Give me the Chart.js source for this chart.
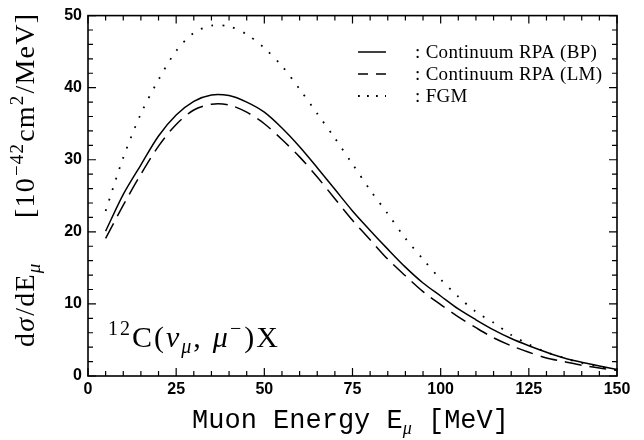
<!DOCTYPE html>
<html>
<head>
<meta charset="utf-8">
<script src="https://cdn.jsdelivr.net/npm/chart.js@4.4.1/dist/chart.umd.min.js"></script>
<style>
  html, body { margin: 0; padding: 0; background: #fff; }
  #wrap { width: 644px; height: 440px; }
</style>
</head>
<body>
<div id="wrap"><canvas id="c" width="644" height="440"></canvas></div>
<script>
// ---- data ----
const energies = [5,10,15,20,25,30,35,40,45,50,55,60,65,70,75,80,85,90,95,100,105,110,115,120,125,130,135,140,145,150];
const rpaBP = [20.1,25.2,29.3,33.3,36.2,38.1,39.0,38.9,38.0,36.6,34.4,31.8,28.9,25.9,22.9,20.2,17.6,15.1,12.9,11.1,9.3,7.8,6.4,5.2,4.2,3.3,2.5,1.9,1.4,0.9];
const rpaLM = [19.1,23.7,28.0,31.9,34.9,36.9,37.7,37.6,36.6,35.0,32.8,30.4,27.6,24.6,21.6,18.9,16.2,13.9,11.7,9.9,8.2,6.7,5.3,4.2,3.3,2.5,2.0,1.5,1.1,0.8];
const fgm   = [22.9,30.3,36.4,41.1,45.1,47.6,48.6,48.5,47.4,45.5,43.0,39.8,36.4,33.0,29.4,25.8,22.5,19.1,16.2,13.4,11.0,8.9,7.4,5.7,4.4,3.3,2.5,1.8,1.3,0.8];
const seriesLabels = [': Continuum RPA (BP)', ': Continuum RPA (LM)', ': FGM'];
const xTickStep = 25, xMinorStep = 5;
const yTickStep = 10, yMinorStep = 2;

const toXY = arr => energies.map((e, i) => ({x: e, y: arr[i]}));

const SERIF = "'Liberation Serif', 'DejaVu Serif', serif";
const MONO = "'Liberation Mono', 'DejaVu Sans Mono', monospace";
const SANS = "'Liberation Sans', Arial, sans-serif";

function drawRun(ctx, x, y, parts) {
  let cx = x;
  for (const p of parts) {
    ctx.font = p.font;
    cx += (p.pre || 0);
    if (p.t) ctx.fillText(p.t, cx, y + (p.dy || 0));
    cx += (p.t ? ctx.measureText(p.t).width : 0) + (p.post || 0);
  }
  return cx - x;
}
function measureRun(ctx, parts) {
  let w = 0;
  for (const p of parts) {
    ctx.font = p.font;
    w += (p.pre || 0) + (p.t ? ctx.measureText(p.t).width : 0) + (p.post || 0);
  }
  return w;
}

const decorPlugin = {
  id: 'decor',
  afterDraw(chart) {
    const ctx = chart.ctx;
    const a = chart.chartArea;
    const xs = chart.scales.x, ys = chart.scales.y;
    ctx.save();
    ctx.strokeStyle = '#000';
    ctx.fillStyle = '#000';
    // frame
    ctx.lineWidth = 1.6;
    ctx.setLineDash([]);
    ctx.strokeRect(a.left, a.top, a.right - a.left, a.bottom - a.top);
    // ticks (inside, mirrored)
    ctx.lineWidth = 1.2;
    ctx.beginPath();
    for (let v = xs.min; v <= xs.max + 1e-9; v += xMinorStep) {
      const px = xs.getPixelForValue(v);
      const len = (Math.abs(v % xTickStep) < 1e-9) ? 8 : 5;
      ctx.moveTo(px, a.bottom); ctx.lineTo(px, a.bottom - len);
      ctx.moveTo(px, a.top); ctx.lineTo(px, a.top + len);
    }
    for (let v = ys.min; v <= ys.max + 1e-9; v += yMinorStep) {
      const py = ys.getPixelForValue(v);
      const len = (Math.abs(v % yTickStep) < 1e-9) ? 8 : 5;
      ctx.moveTo(a.left, py); ctx.lineTo(a.left + len, py);
      ctx.moveTo(a.right, py); ctx.lineTo(a.right - len, py);
    }
    ctx.stroke();

    // legend
    const rows = [52, 74, 96];
    const sx0 = 358, sx1 = 386, tx = 415;
    ctx.textBaseline = 'alphabetic';
    chart.data.datasets.forEach((ds, i) => {
      const y = rows[i];
      ctx.lineWidth = ds.borderWidth;
      ctx.setLineDash(i === 1 ? [10, 8] : (i === 2 ? [1.8, 7.2] : []));
      ctx.beginPath();
      ctx.moveTo(sx0, y); ctx.lineTo(sx1, y);
      ctx.stroke();
      ctx.setLineDash([]);
      ctx.letterSpacing = '0.3px';
      ctx.font = `19px ${SERIF}`;
      ctx.fillText(seriesLabels[i], tx, y + 6);
      ctx.letterSpacing = '0px';
    });

    // x title
    const xParts = [
      {t: 'Muon Energy E', font: `27px ${MONO}`},
      {t: 'μ', font: `italic 18px ${SERIF}`, dy: 6},
      {t: ' [MeV]', font: `27px ${MONO}`}
    ];
    const xw = measureRun(ctx, xParts);
    drawRun(ctx, (a.left + a.right) / 2 - 2 - xw / 2, 428, xParts);

    // y title (rotated)
    ctx.save();
    ctx.translate(34, 347);
    ctx.rotate(-Math.PI / 2);
    ctx.letterSpacing = '1.2px';
    drawRun(ctx, 0, 0, [
      {t: 'd', font: `28px ${SERIF}`},
      {t: 'σ', font: `italic 28px ${SERIF}`, post: 1},
      {t: '/dE', font: `28px ${SERIF}`},
      {t: 'μ', font: `italic 19px ${SERIF}`, dy: 6}
    ]);
    drawRun(ctx, 129, 0, [
      {t: '[10', font: `28px ${SERIF}`, post: 1},
      {t: '−42', font: `19px ${SERIF}`, dy: -11, post: 1},
      {t: 'cm', font: `28px ${SERIF}`},
      {t: '2', font: `19px ${SERIF}`, dy: -11, post: 1},
      {t: '/MeV]', font: `28px ${SERIF}`}
    ]);
    ctx.letterSpacing = '0px';
    ctx.restore();

    // reaction label
    ctx.letterSpacing = '2px';
    drawRun(ctx, 108, 347, [
      {t: '12', font: `20px ${SERIF}`, dy: -12},
      {t: 'C(', font: `30px ${SERIF}`},
      {t: 'ν', font: `italic 30px ${SERIF}`},
      {t: 'μ', font: `italic 20px ${SERIF}`, dy: 6},
      {t: ',', font: `30px ${SERIF}`, post: 10},
      {t: 'μ', font: `italic 30px ${SERIF}`},
      {t: '−', font: `20px ${SERIF}`, dy: -12, post: 1},
      {t: ')X', font: `30px ${SERIF}`}
    ]);
    ctx.letterSpacing = '0px';
    ctx.restore();
  }
};

new Chart(document.getElementById('c'), {
  type: 'line',
  data: {
    datasets: [
      {label: seriesLabels[0], data: toXY(rpaBP), borderColor: '#000', borderWidth: 1.5, pointRadius: 0, tension: 0.3, fill: false},
      {label: seriesLabels[1], data: toXY(rpaLM), borderColor: '#000', borderWidth: 1.5, borderDash: [17, 8], pointRadius: 0, tension: 0.3, fill: false},
      {label: seriesLabels[2], data: toXY(fgm), borderColor: '#000', borderWidth: 1.8, borderDash: [1.8, 9.2], pointRadius: 0, tension: 0.3, fill: false}
    ]
  },
  options: {
    responsive: false,
    animation: false,
    events: [],
    layout: {padding: {left: 0, right: 27, top: 9, bottom: 0}},
    plugins: {legend: {display: false}, tooltip: {enabled: false}},
    scales: {
      x: {
        type: 'linear', min: 0, max: 150,
        grid: {display: false, drawTicks: false},
        border: {display: false},
        ticks: {stepSize: xTickStep, autoSkip: false, maxRotation: 0, padding: 4, color: '#000',
                font: {family: SANS, size: 16, weight: 'bold'}},
        afterFit(s) { s.height = 64; }
      },
      y: {
        type: 'linear', min: 0, max: 50,
        grid: {display: false, drawTicks: false},
        border: {display: false},
        ticks: {stepSize: yTickStep, padding: 6, color: '#000',
                font: {family: SANS, size: 16, weight: 'bold'}},
        afterFit(s) { s.width = 88; }
      }
    }
  },
  plugins: [decorPlugin]
});
</script>
</body>
</html>
